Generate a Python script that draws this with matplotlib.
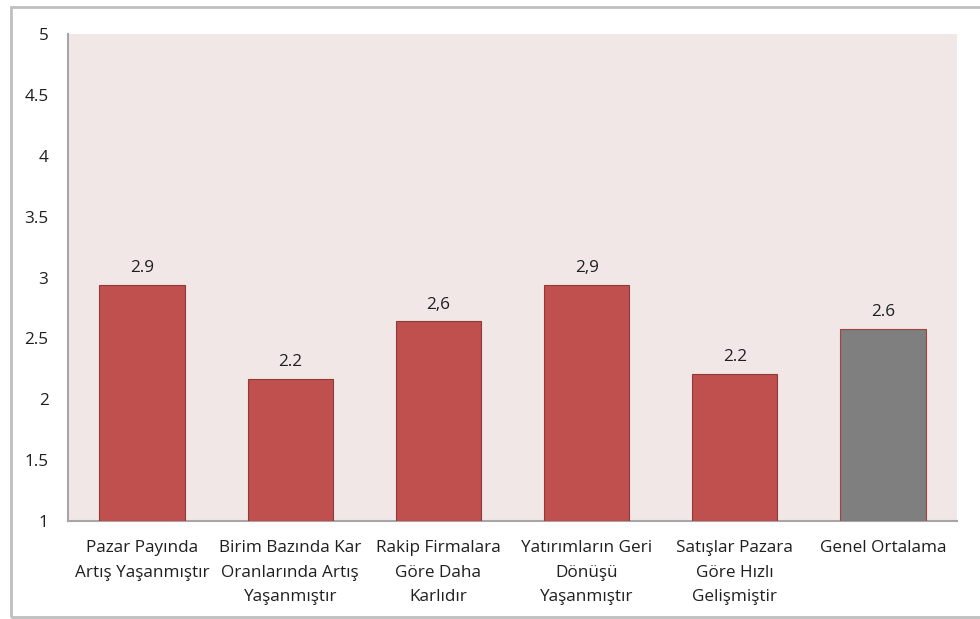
import matplotlib
matplotlib.use("Agg")
import matplotlib.pyplot as plt
from matplotlib.patches import Rectangle

# Survey results (mean scores on a 1-5 scale)
categories = [
    "Pazar Payında\nArtış Yaşanmıştır",
    "Birim Bazında Kar\nOranlarında Artış\nYaşanmıştır",
    "Rakip Firmalara\nGöre Daha\nKarlıdır",
    "Yatırımların Geri\nDönüşü\nYaşanmıştır",
    "Satışlar Pazara\nGöre Hızlı\nGelişmiştir",
    "Genel Ortalama",
]
values = [2.94, 2.17, 2.64, 2.94, 2.21, 2.58]
decimal_marks = [".", ".", ",", ",", ".", "."]
bar_colors = ["#C0504D", "#C0504D", "#C0504D", "#C0504D", "#C0504D", "#7F7F7F"]
y_ticks = [1, 1.5, 2, 2.5, 3, 3.5, 4, 4.5, 5]
y_tick_labels = ["1", "1.5", "2", "2.5", "3", "3.5", "4", "4.5", "5"]

plt.rcParams["font.family"] = ["Open Sans", "DejaVu Sans"]

W, H = 980, 619
fig = plt.figure(figsize=(W / 100, H / 100), dpi=100)
fig.patch.set_facecolor("white")

# outer chart frame
fig.add_artist(Rectangle((11 / W, 2 / H), (W + 20 - 11) / W, (612 - 2) / H,
                         transform=fig.transFigure, fill=False,
                         edgecolor="#BFBFBF", linewidth=2, clip_on=False))

left, right, top, bottom = 68, 957, 34, 521
ax = fig.add_axes([left / W, 1 - bottom / H, (right - left) / W, (bottom - top) / H])
ax.set_facecolor("#F2E7E7")

x = list(range(len(categories)))
bars = ax.bar(x, [v - 1 for v in values], bottom=1, width=0.575,
              color=bar_colors, edgecolor="#8E3A38", linewidth=0.8, zorder=3)
bars[-1].set_edgecolor("#A04442")

text_color = "#1F1F1F"
fs = 12.3

for xi, v, sep in zip(x, values, decimal_marks):
    ax.annotate(f"{v:.1f}".replace(".", sep), (xi, v), xytext=(0, 6),
                textcoords="offset points", ha="center", va="bottom",
                fontsize=fs, color=text_color)

ax.set_xlim(-0.5, len(categories) - 0.5)
ax.set_ylim(1, 5)
ax.set_yticks(y_ticks)
ax.set_yticklabels(y_tick_labels)
ax.set_xticks(x)
ax.set_xticklabels(categories, linespacing=1.69)

ax.tick_params(axis="y", length=0, pad=14, labelsize=fs, labelcolor=text_color)
ax.tick_params(axis="x", length=0, pad=14, labelsize=fs, labelcolor=text_color)

for side in ["top", "right"]:
    ax.spines[side].set_visible(False)
ax.spines["left"].set_color("#A6A6A6")
ax.spines["left"].set_linewidth(1.5)
ax.spines["bottom"].set_color("#A6A6A6")
ax.spines["bottom"].set_linewidth(1.5)

fig.savefig("out.png", dpi=100)
